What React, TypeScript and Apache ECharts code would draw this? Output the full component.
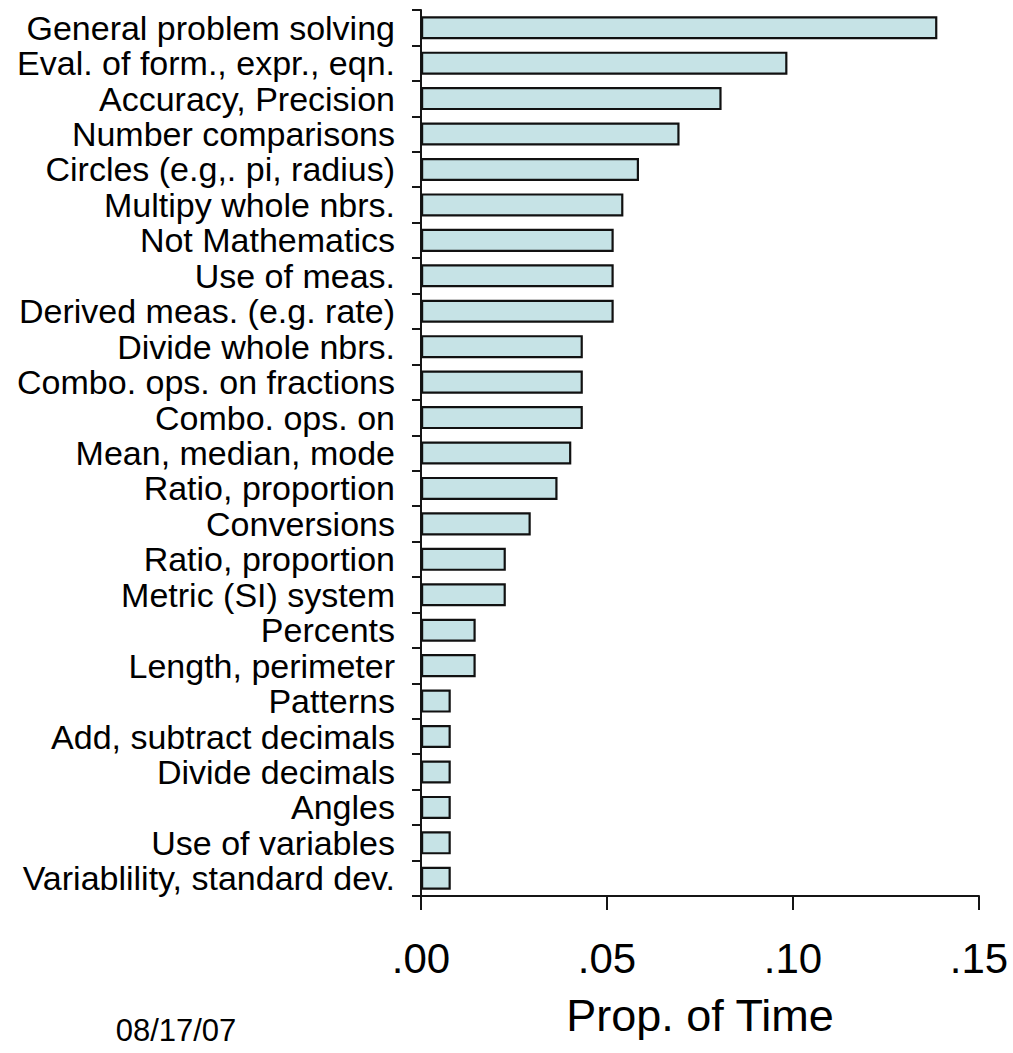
import React, { useEffect, useRef } from "react";
import * as echarts from "echarts";

const categories: string[] = [
  "General problem solving",
  "Eval. of form., expr., eqn.",
  "Accuracy, Precision",
  "Number comparisons",
  "Circles (e.g,. pi, radius)",
  "Multipy whole nbrs.",
  "Not Mathematics",
  "Use of meas.",
  "Derived meas. (e.g. rate)",
  "Divide whole nbrs.",
  "Combo. ops. on fractions",
  "Combo. ops. on",
  "Mean, median, mode",
  "Ratio, proportion",
  "Conversions",
  "Ratio, proportion",
  "Metric (SI) system",
  "Percents",
  "Length, perimeter",
  "Patterns",
  "Add, subtract decimals",
  "Divide decimals",
  "Angles",
  "Use of variables",
  "Variablility, standard dev.",
];

const values: number[] = [
  0.1388, 0.0985, 0.0808, 0.0695, 0.0586, 0.0544, 0.0518, 0.0518, 0.0518,
  0.0435, 0.0435, 0.0435, 0.0404, 0.0367, 0.0295, 0.0228, 0.0228, 0.0147,
  0.0147, 0.008, 0.008, 0.008, 0.008, 0.008, 0.008,
];

const xTicks = { min: 0, max: 0.15, interval: 0.05 };
const xAxisName = "Prop. of Time";
const dateText = "08/17/07";

const FONT = '"Liberation Sans", Arial, Helvetica, sans-serif';

export default function App() {
  const ref = useRef<HTMLDivElement>(null);
  useEffect(() => {
    if (!ref.current) return;
    const chart = echarts.init(ref.current, null, { renderer: "svg" });
    chart.setOption({
      animation: false,
      backgroundColor: "#ffffff",
      textStyle: { fontFamily: FONT },
      grid: {
        left: 421,
        right: 34,
        top: 10,
        bottom: 157,
        containLabel: false,
        outerBoundsMode: "none",
      },
      xAxis: {
        type: "value",
        min: xTicks.min,
        max: xTicks.max,
        interval: xTicks.interval,
        name: xAxisName,
        nameLocation: "middle",
        nameGap: 97,
        nameTextStyle: { fontSize: 45, color: "#000", fontFamily: FONT },
        axisLine: { show: true, lineStyle: { color: "#151515", width: 2 } },
        axisTick: { show: true, length: 14, lineStyle: { color: "#151515", width: 2 } },
        axisLabel: {
          fontSize: 42,
          color: "#000",
          fontFamily: FONT,
          margin: 41,
          formatter: (v: number) => v.toFixed(2).replace(/^0/, ""),
        },
        splitLine: { show: false },
      },
      yAxis: {
        type: "category",
        inverse: true,
        data: categories,
        axisLine: { show: true, lineStyle: { color: "#151515", width: 2 } },
        axisTick: { show: true, length: 9, alignWithLabel: false, lineStyle: { color: "#151515", width: 2 } },
        axisLabel: {
          fontSize: 34,
          color: "#000",
          fontFamily: FONT,
          margin: 26,
          interval: 0,
        },
        splitLine: { show: false },
      },
      series: [
        {
          type: "bar",
          data: values,
          barCategoryGap: "35%",
          itemStyle: {
            color: "#c6e3e6",
            borderColor: "#111111",
            borderWidth: 2.2,
          },
        },
      ],
      graphic: [
        {
          type: "text",
          x: 176,
          y: 1030,
          style: {
            text: dateText,
            fontSize: 31,
            fontFamily: FONT,
            fill: "#000",
            textAlign: "center",
            textVerticalAlign: "middle",
          },
        },
      ],
    });
    return () => chart.dispose();
  }, []);
  return (
    <div
      ref={ref}
      style={{ position: "fixed", left: 0, top: 0, width: 1013, height: 1053 }}
    />
  );
}
